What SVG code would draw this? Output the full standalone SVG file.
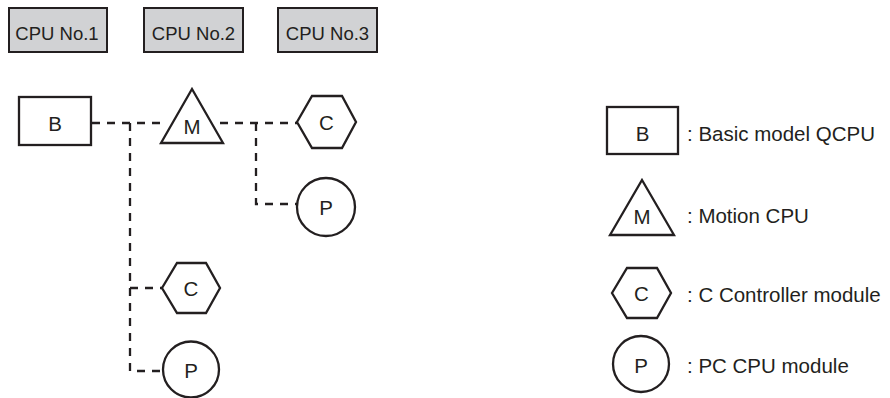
<svg xmlns="http://www.w3.org/2000/svg" width="890" height="398" viewBox="0 0 890 398">
<style>
.cpu{fill:#d1d2d4;stroke:#231f20;stroke-width:2}
.sh{fill:#fff;stroke:#231f20;stroke-width:2.3}
.t{font-family:"Liberation Sans",Arial,sans-serif;fill:#231f20}
.lb{font-size:18.5px;text-anchor:middle}
.nl{font-size:20.5px;text-anchor:middle}
.lg{font-size:20.5px}
.dash{fill:none;stroke:#231f20;stroke-width:2.3;stroke-dasharray:8 7}
</style>
<rect width="890" height="398" fill="#fff"/>
<g id="cpu1"><rect class="cpu" x="9" y="8" width="98" height="44"/><text class="t lb" x="57" y="40">CPU No.1</text></g>
<g id="cpu2"><rect class="cpu" x="144" y="8" width="99" height="44"/><text class="t lb" x="193.5" y="40">CPU No.2</text></g>
<g id="cpu3"><rect class="cpu" x="278" y="8" width="99" height="44"/><text class="t lb" x="327.5" y="40">CPU No.3</text></g>
<g id="connectors">
<path class="dash" d="M92 123 H164"/>
<path class="dash" d="M220 123 H297"/>
<path class="dash" d="M130 123 V371 H162"/>
<path class="dash" d="M130 288 H162"/>
<path class="dash" d="M256 123 V204 H297"/>
</g>
<g id="nodeB"><rect class="sh" x="19" y="97" width="72" height="48"/><text class="t nl" x="55" y="131">B</text></g>
<g id="nodeM"><polygon class="sh" points="192,89 223,143 161,143"/><text class="t nl" x="192" y="134">M</text></g>
<g id="nodeC1"><polygon class="sh" points="297,122 312,96 342,96 356,122 342,148 312,148"/><text class="t nl" x="326.5" y="130">C</text></g>
<g id="nodeP1"><circle class="sh" cx="326" cy="207" r="29"/><text class="t nl" x="326" y="215">P</text></g>
<g id="nodeC2"><polygon class="sh" points="162,288 177,263 206,263 220,288 206,313 177,313"/><text class="t nl" x="191" y="296">C</text></g>
<g id="nodeP2"><circle class="sh" cx="191" cy="369.5" r="28"/><text class="t nl" x="191" y="378">P</text></g>
<g id="legendB"><rect class="sh" x="607" y="107" width="71" height="47"/><text class="t nl" x="642.5" y="141">B</text><text class="t lg" x="687" y="141">: Basic model QCPU</text></g>
<g id="legendM"><polygon class="sh" points="642,180 674,235 610,235"/><text class="t nl" x="642" y="224">M</text><text class="t lg" x="687" y="223">: Motion CPU</text></g>
<g id="legendC"><polygon class="sh" points="612,293 627,268 657,268 671,293 657,318 627,318"/><text class="t nl" x="641.5" y="301">C</text><text class="t lg" x="687" y="302">: C Controller module</text></g>
<g id="legendP"><circle class="sh" cx="641" cy="364" r="28"/><text class="t nl" x="641" y="373">P</text><text class="t lg" x="687" y="373">: PC CPU module</text></g>
</svg>
